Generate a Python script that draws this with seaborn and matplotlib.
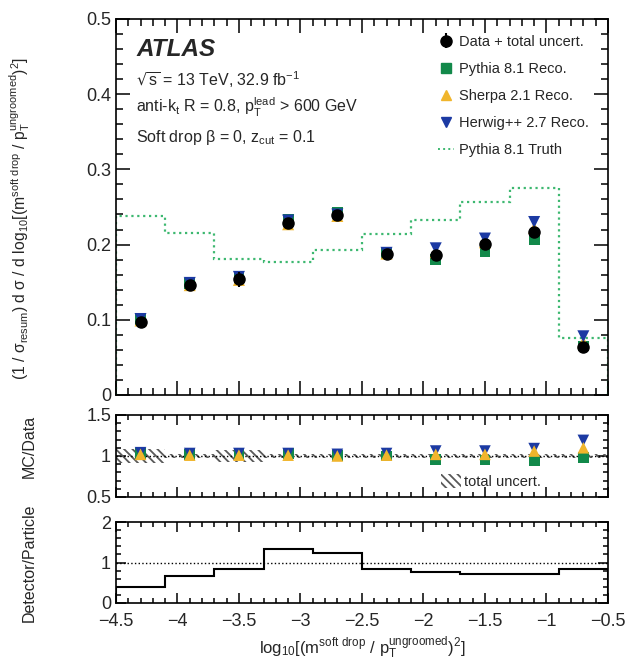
import numpy as np
import seaborn as sns
import matplotlib.pyplot as plt
from matplotlib.lines import Line2D
from matplotlib.patches import Patch
from matplotlib.ticker import MultipleLocator, FuncFormatter

# binning in log10[(m / pT)^2]
bin_edges = [-4.5, -4.1, -3.7, -3.3, -2.9, -2.5, -2.1, -1.7, -1.3, -0.9, -0.5]

data = [0.097, 0.146, 0.154, 0.229, 0.239, 0.187, 0.186, 0.201, 0.217, 0.064]
data_err = [0.007, 0.004, 0.010, 0.005, 0.005, 0.004, 0.005, 0.005, 0.006, 0.002]
pythia_reco = [0.100, 0.148, 0.156, 0.233, 0.243, 0.188, 0.180, 0.190, 0.206, 0.065]
sherpa_reco = [0.099, 0.146, 0.153, 0.227, 0.238, 0.188, 0.190, 0.203, 0.222, 0.070]
herwig_reco = [0.101, 0.149, 0.157, 0.232, 0.240, 0.189, 0.195, 0.208, 0.230, 0.078]
pythia_truth = [0.238, 0.215, 0.181, 0.177, 0.193, 0.214, 0.232, 0.257, 0.275, 0.076]

# MC / Data
pythia_ratio = [1.03, 1.02, 1.02, 1.03, 1.01, 1.00, 0.96, 0.95, 0.94, 0.98]
sherpa_ratio = [1.02, 1.01, 1.01, 1.01, 1.00, 1.01, 1.02, 1.02, 1.06, 1.10]
herwig_ratio = [1.04, 1.03, 1.03, 1.03, 1.02, 1.03, 1.06, 1.06, 1.09, 1.19]
total_unc = [0.08, 0.03, 0.07, 0.03, 0.02, 0.02, 0.025, 0.02, 0.02, 0.02]

# detector / particle correction
det_over_part = [0.40, 0.66, 0.83, 1.33, 1.24, 0.83, 0.76, 0.71, 0.71, 0.84]

c_pythia = '#12894a'
c_sherpa = '#f0b52c'
c_herwig = '#1c3aa3'
c_truth = '#3db870'

sns.set_theme(style='ticks')
plt.rcParams['font.family'] = ['Liberation Sans', 'DejaVu Sans']
plt.rcParams['mathtext.default'] = 'regular'
plt.rcParams['hatch.linewidth'] = 1.3
plt.rcParams['axes.linewidth'] = 1.2

edges = np.array(bin_edges)
centers = 0.5 * (edges[:-1] + edges[1:])
HATCH = '\\\\\\\\'


def fmt(v, pos):
    return ('%g' % v).replace('-', '\u2212')


def style_axis(ax, ymaj, ymin, big):
    ax.xaxis.set_major_locator(MultipleLocator(0.5))
    ax.xaxis.set_minor_locator(MultipleLocator(0.1))
    ax.yaxis.set_major_locator(MultipleLocator(ymaj))
    ax.yaxis.set_minor_locator(MultipleLocator(ymin))
    ax.yaxis.set_major_formatter(FuncFormatter(fmt))
    ax.xaxis.set_major_formatter(FuncFormatter(fmt))
    L = 10 if big else 7
    ax.tick_params(which='both', direction='in', top=True, right=True,
                   color='black', labelsize=13, width=1.1)
    ax.tick_params(which='major', length=L)
    ax.tick_params(which='minor', length=L / 2)
    ax.tick_params(axis='x', pad=7)
    ax.set_xlim(-4.5, -0.5)
    for s in ax.spines.values():
        s.set_color('black')


fig = plt.figure(figsize=(6.3, 6.66), dpi=100)
ax = fig.add_axes([0.184, 0.407, 0.781, 0.5645])
ax_r = fig.add_axes([0.184, 0.2538, 0.781, 0.1231])
ax_d = fig.add_axes([0.184, 0.0946, 0.781, 0.1216])

# ---- main panel
ax.stairs(pythia_truth, edges, color=c_truth, linestyle=':', linewidth=1.6, zorder=2)
sns.scatterplot(x=centers, y=pythia_reco, marker='s', color=c_pythia, s=60,
                edgecolor='none', ax=ax, zorder=3)
sns.scatterplot(x=centers, y=sherpa_reco, marker='^', color=c_sherpa, s=75,
                edgecolor='none', ax=ax, zorder=4)
sns.scatterplot(x=centers, y=herwig_reco, marker='v', color=c_herwig, s=75,
                edgecolor='none', ax=ax, zorder=5)
h_data = ax.errorbar(centers, data, yerr=data_err, fmt='o', color='black',
                     ms=8, elinewidth=1.5, capsize=0, zorder=6)
ax.set_ylim(0, 0.5)
style_axis(ax, 0.1, 0.02, True)
ax.set_xticklabels([])
ax.set_ylabel(r'(1 / $\sigma_{resum}$) d $\sigma$ / d log$_{10}$[(m$^{soft\ drop}$ / p$_{T}^{ungroomed}$)$^{2}$]',
              fontsize=11.3)
ax.yaxis.set_label_coords(-0.17, 0.47)

ax.text(0.041, 0.918, 'ATLAS', transform=ax.transAxes, fontsize=17.5,
        fontweight='bold', fontstyle='italic', va='center')
ax.text(0.041, 0.838, r'$\sqrt{s}$ = 13 TeV, 32.9 fb$^{-1}$', transform=ax.transAxes,
        fontsize=11.5, va='center')
ax.text(0.041, 0.766, r'anti-k$_{t}$ R = 0.8, p$_{T}^{lead}$ > 600 GeV',
        transform=ax.transAxes, fontsize=11.5, va='center')
ax.text(0.041, 0.686, r'Soft drop $\beta$ = 0, z$_{cut}$ = 0.1',
        transform=ax.transAxes, fontsize=11.5, va='center')

handles = [
    h_data,
    Line2D([], [], marker='s', color=c_pythia, ls='none', ms=6.5),
    Line2D([], [], marker='^', color=c_sherpa, ls='none', ms=7),
    Line2D([], [], marker='v', color=c_herwig, ls='none', ms=7),
    Line2D([], [], color=c_truth, ls=':', lw=1.4),
]
labels = ['Data + total uncert.', 'Pythia 8.1 Reco.', 'Sherpa 2.1 Reco.',
          'Herwig++ 2.7 Reco.', 'Pythia 8.1 Truth']
ax.legend(handles, labels, loc='upper left', bbox_to_anchor=(0.655, 0.958),
          frameon=False, fontsize=10.5, handlelength=1.1, handletextpad=0.3,
          labelspacing=0.9, borderpad=0, borderaxespad=0)

# ---- MC / Data panel
ax_r.bar(centers, 2 * np.array(total_unc), bottom=1 - np.array(total_unc),
         width=0.4, fill=False, hatch=HATCH, edgecolor='0.35', linewidth=0, zorder=1)
ax_r.axhline(1, color='black', ls=':', lw=1, zorder=2)
sns.scatterplot(x=centers, y=pythia_ratio, marker='s', color=c_pythia, s=60,
                edgecolor='none', ax=ax_r, zorder=3)
sns.scatterplot(x=centers, y=herwig_ratio, marker='v', color=c_herwig, s=70,
                edgecolor='none', ax=ax_r, zorder=4)
sns.scatterplot(x=centers, y=sherpa_ratio, marker='^', color=c_sherpa, s=70,
                edgecolor='none', ax=ax_r, zorder=5)
ax_r.set_ylim(0.5, 1.5)
style_axis(ax_r, 0.5, 0.1, False)
ax_r.set_xticklabels([])
ax_r.set_ylabel('MC/Data', fontsize=11.5)
ax_r.yaxis.set_label_coords(-0.16, 0.62)
ax_r.legend([Patch(fill=False, hatch=HATCH, edgecolor='0.35', linewidth=0)],
            ['total uncert.'], loc='lower left', bbox_to_anchor=(0.66, 0.1),
            frameon=False, fontsize=10.5, handlelength=1.4, handleheight=1.1,
            handletextpad=0.2, borderpad=0, borderaxespad=0)

# ---- Detector / Particle panel
ax_d.axhline(1, color='black', ls=':', lw=1, zorder=1)
ax_d.stairs(det_over_part, edges, color='black', linewidth=1.5, zorder=2)
ax_d.set_ylim(0, 2)
style_axis(ax_d, 1, 0.2, False)
ax_d.set_ylabel('Detector/Particle', fontsize=11.5)
ax_d.yaxis.set_label_coords(-0.16, 0.5)
ax_d.set_xlabel(r'log$_{10}$[(m$^{soft\ drop}$ / p$_{T}^{ungroomed}$)$^{2}$]', fontsize=12)

fig.savefig('out.png', dpi=100)
